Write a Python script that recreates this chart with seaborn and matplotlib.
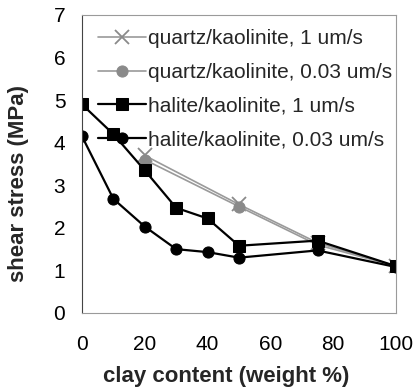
import matplotlib
matplotlib.use("Agg")
import matplotlib.pyplot as plt
import seaborn as sns
import pandas as pd

# data
clay_q = [20, 50, 75, 100]
quartz_1 = [3.7, 2.55, 1.65, 1.1]
quartz_003 = [3.6, 2.5, 1.6, 1.1]
clay_h = [0, 10, 20, 30, 40, 50, 75, 100]
halite_1 = [4.9, 4.2, 3.35, 2.47, 2.22, 1.58, 1.7, 1.1]
halite_003 = [4.15, 2.68, 2.03, 1.5, 1.43, 1.3, 1.47, 1.08]
labels = ["quartz/kaolinite, 1 um/s", "quartz/kaolinite, 0.03 um/s",
          "halite/kaolinite, 1 um/s", "halite/kaolinite, 0.03 um/s"]

sns.set_style("white")
plt.rcParams['font.family'] = ['Liberation Sans', 'DejaVu Sans']

L, R, T, B = 82, 396, 15, 313
fig = plt.figure(figsize=(4.15, 3.92), dpi=100)
ax = fig.add_axes([L/415, 1-B/392, (R-L)/415, (B-T)/392])

df_q1 = pd.DataFrame({"x": clay_q, "y": quartz_1})
df_q2 = pd.DataFrame({"x": clay_q, "y": quartz_003})
df_h1 = pd.DataFrame({"x": clay_h, "y": halite_1})
df_h2 = pd.DataFrame({"x": clay_h, "y": halite_003})

sns.lineplot(data=df_q1, x="x", y="y", ax=ax, color="#9a9a9a", lw=1.2,
             marker="x", markersize=10, mew=1.3, mec="#8a8a8a", label=labels[0])
sns.lineplot(data=df_q2, x="x", y="y", ax=ax, color="#9a9a9a", lw=1.2,
             marker="o", markersize=8, mfc="#8a8a8a", mec="#8a8a8a", label=labels[1])
sns.lineplot(data=df_h1, x="x", y="y", ax=ax, color="black", lw=1.6,
             marker="s", markersize=9, mfc="black", mec="black", label=labels[2])
sns.lineplot(data=df_h2, x="x", y="y", ax=ax, color="black", lw=1.6,
             marker="o", markersize=8, mfc="black", mec="black", label=labels[3])

ax.set_xlim(0, 100)
ax.set_ylim(0, 7)
ax.set_xticks([0, 20, 40, 60, 80, 100])
ax.set_yticks(range(0, 8))
ax.tick_params(axis='x', direction='in', length=5, width=0.6, pad=16,
               labelsize=15, labelcolor='black', color='#666666')
ax.tick_params(axis='y', direction='out', length=5, width=0.6, pad=7,
               labelsize=15, labelcolor='black', color='#666666')
for s in ['top', 'right', 'bottom']:
    ax.spines[s].set_color('#9a9a9a')
    ax.spines[s].set_linewidth(0.8)
ax.spines['left'].set_color('#444444')
ax.spines['left'].set_linewidth(0.8)

ax.set_xlabel("clay content (weight %)", fontsize=16, fontweight='bold')
ax.set_ylabel("shear stress (MPa)", fontsize=16, fontweight='bold')
ax.xaxis.set_label_coords((226 - L) / (R - L), (B - 366) / (B - T))
ax.yaxis.set_label_coords((29 - L) / (R - L), (B - 183) / (B - T))

leg = ax.legend(loc='upper left', bbox_to_anchor=(0.025, 0.98), frameon=False,
                fontsize=15, handlelength=2.3, handletextpad=0.1,
                labelspacing=0.7, borderaxespad=0.0)

fig.savefig("out.png", dpi=100)
